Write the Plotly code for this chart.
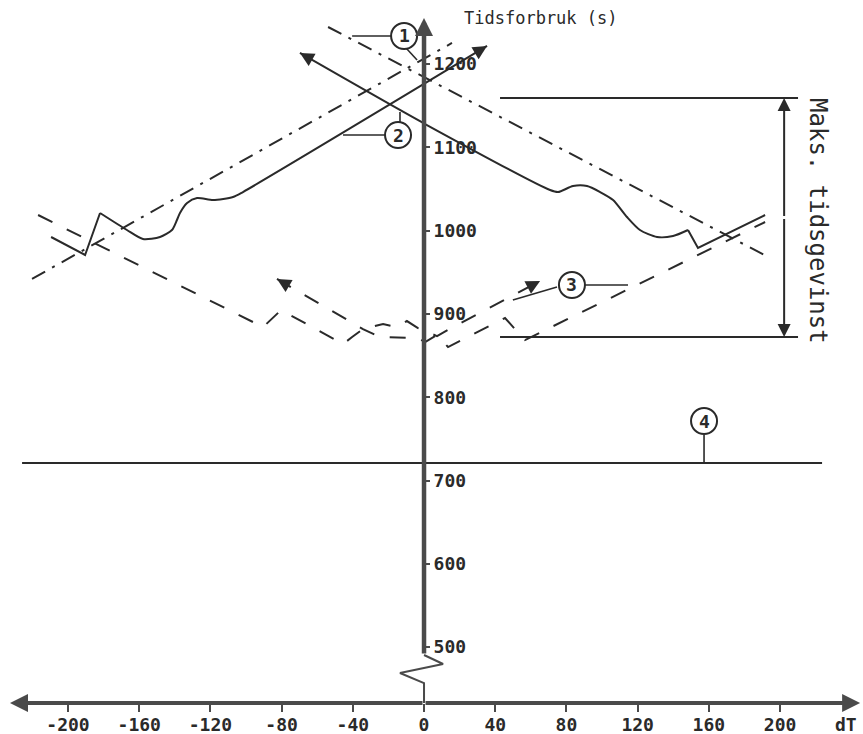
import math
import plotly.graph_objects as go

# ---------------- data ----------------
x_ticks = [-200, -160, -120, -80, -40, 0, 40, 80, 120, 160, 200]
x_tick_text = ["-200", "-160", "-120", "-80", "-40", "0", "40", "80", "120", "160", "200"]
y_ticks = [500, 600, 700, 800, 900, 1000, 1100, 1200]

# curve (2): solid, rising to the right (arrow at the end)
c2a_x = [-209.5, -190.4, -182.0, -166.9, -157.9, -148.3, -141.6, -138.8, -137.1, -133.1, -127.5, -118.5, -107.3, -101.7, 35.4]
c2a_y = [992.3, 970.7, 1021.1, 1000.7, 989.9, 992.3, 1000.7, 1012.7, 1021.1, 1033.1, 1039.1, 1036.7, 1040.3, 1046.3, 1221.6]
# curve (2): solid, rising to the left (arrow at the start)
c2b_x = [-69.7, 0.6, 70.8, 75.3, 83.7, 91.6, 98.9, 106.2, 114.0, 121.3, 130.9, 139.9, 148.3, 153.9, 191.6]
c2b_y = [1213.2, 1127.9, 1048.7, 1046.3, 1053.5, 1053.5, 1046.3, 1036.7, 1016.3, 1000.7, 992.3, 993.5, 1000.7, 979.1, 1018.7]

# curve (3): dashed, rising to the right (arrow at the end)
c3a_x = [-216.8, -90.4, -80.3, -45.5, -40.4, -34.3, -23.0, -15.2, -9.6, -3.4, 7.3, 16.3, 65.2]
c3a_y = [1018.7, 884.2, 904.6, 863.8, 872.2, 881.8, 887.8, 884.2, 891.4, 883.0, 873.4, 884.2, 939.5]
# curve (3): dashed, rising to the left (arrow at the start)
c3b_x = [-82.6, -34.3, -24.7, -3.4, 0.6, 7.3, 13.5, 45.5, 56.7, 191.6]
c3b_y = [941.9, 881.8, 872.2, 871.0, 866.2, 874.6, 860.2, 895.0, 868.6, 1010.3]

# curve (1): dash-dot straight lines
c1a_x = [-53.9, 194.4]
c1a_y = [1244.4, 967.1]
c1b_x = [-220.2, 15.7]
c1b_y = [941.9, 1225.2]

# line (4): constant level
c4_x = [-225.8, 223.6]
c4_y = [721.0, 721.0]

# "Maks. tidsgevinst" dimension
gain_x = [42.7, 210.1]
gain_top = 1159.2
gain_bottom = 872.2
gain_arrow_x = 202.3

# labelled circles
circle_x = [-11.2, -14.6, 83.1, 157.3]
circle_y = [1233.6, 1114.7, 934.7, 771.4]
circle_text = ["1", "2", "3", "4"]

# leader lines for circles (x pairs, y pairs)
leader_x = [[-18.0, -40.4], [-10.1, -3.9], [-21.3, -45.5], [-13.5, -13.5], [74.7, 49.9], [90.4, 114.6], [157.3, 157.3]]
leader_y = [[1233.6, 1233.6], [1219.2, 1204.8], [1114.7, 1114.7], [1129.1, 1142.3], [932.3, 916.7], [934.7, 934.7], [754.6, 721.0]]

# axes geometry
x_min, x_max = -238.2, 246.6
y_min, y_max = 432.9, 1276.8
x_arrow_left, x_arrow_right = -232.6, 245.0
y_axis_top = 1255.2
y_axis_start = 490.5
break_x = [0.0, 0.0, -13.5, 10.7, 0.0]
break_y = [432.9, 456.8, 468.9, 479.7, 490.5]

FIG_W, FIG_H = 863, 734
MARGIN_B = 31
PLOT_H = FIG_H - MARGIN_B
PX_X = FIG_W / (x_max - x_min)
PX_Y = PLOT_H / (y_max - y_min)

INK = "#2a2a2a"
AXIS = "#4a4a4a"
FONT = "DejaVu Sans Mono"
DASH = "16px,16px"
DASHDOT = "15px,8px,3px,8px"

fig = go.Figure()


def line(x, y, dash="solid", width=2, color=INK, shape="linear"):
    fig.add_trace(go.Scatter(x=x, y=y, mode="lines",
                             line=dict(color=color, width=width, dash=dash, shape=shape, smoothing=0.7),
                             hoverinfo="skip"))


def arrow(x_tail, y_tail, x_head, y_head, width=2, size=1.4, color=INK):
    fig.add_annotation(x=x_head, y=y_head, ax=x_tail, ay=y_tail,
                       xref="x", yref="y", axref="x", ayref="y",
                       text="", showarrow=True, arrowhead=2,
                       arrowsize=size, arrowwidth=width, arrowcolor=color, standoff=0)


def head_only(x_from, y_from, x_tip, y_tip, length_px=10, **kw):
    dx = (x_from - x_tip) * PX_X
    dy = (y_from - y_tip) * PX_Y
    d = math.hypot(dx, dy)
    f = length_px / d
    arrow(x_tip + (x_from - x_tip) * f, y_tip + (y_from - y_tip) * f, x_tip, y_tip, **kw)


# curve (2)
line(c2a_x[:3], c2a_y[:3])
line(c2a_x[2:], c2a_y[2:], shape="spline")
line(c2b_x[:13], c2b_y[:13], shape="spline")
line(c2b_x[12:], c2b_y[12:])
head_only(c2a_x[-2], c2a_y[-2], c2a_x[-1], c2a_y[-1])
head_only(c2b_x[1], c2b_y[1], c2b_x[0], c2b_y[0])

# curve (3)
line(c3a_x, c3a_y, dash=DASH)
line(c3b_x, c3b_y, dash=DASH)
head_only(c3a_x[-2], c3a_y[-2], c3a_x[-1], c3a_y[-1])
head_only(c3b_x[1], c3b_y[1], c3b_x[0], c3b_y[0])

# curve (1)
line(c1a_x, c1a_y, dash=DASHDOT)
line(c1b_x, c1b_y, dash=DASHDOT)

# line (4)
line(c4_x, c4_y)

# gain dimension
line(gain_x, [gain_top, gain_top])
line(gain_x, [gain_bottom, gain_bottom])
mid = (gain_top + gain_bottom) / 2
arrow(gain_arrow_x, mid, gain_arrow_x, gain_top, width=2, size=1.3)
arrow(gain_arrow_x, mid, gain_arrow_x, gain_bottom, width=2, size=1.3)

# leaders
for lx, ly in zip(leader_x, leader_y):
    line(lx, ly, width=1.6)

# y axis with break
line(break_x, break_y, width=2, color=AXIS)
arrow(0, y_axis_start, 0, y_axis_top, width=4.5, size=0.8, color=AXIS)
# x axis with arrows both ways
arrow(0, y_min, x_arrow_left, y_min, width=4, size=0.9, color=AXIS)
arrow(0, y_min, x_arrow_right, y_min, width=4, size=0.9, color=AXIS)

# circles
for cx, cy, t in zip(circle_x, circle_y, circle_text):
    fig.add_shape(type="circle", xref="x", yref="y", xsizemode="pixel", ysizemode="pixel",
                  xanchor=cx, yanchor=cy, x0=-13, x1=13, y0=-13, y1=13,
                  line=dict(color=INK, width=2), fillcolor="white")
    fig.add_annotation(x=cx, y=cy, text=t, showarrow=False,
                       font=dict(family=FONT, size=18, color=INK, weight="bold"))

# texts
fig.add_annotation(x=65.7, y=1255.2, text="Tidsforbruk (s)", showarrow=False,
                   font=dict(family=FONT, size=17, color=INK))
fig.add_annotation(x=221.3, y=1011.5, text="Maks. tidsgevinst", showarrow=False, textangle=90,
                   font=dict(family=FONT, size=24, color=INK))
# x-axis name, placed just below the axis on the right end
fig.add_annotation(x=846 / FIG_W, xref="paper", y=-(724 - PLOT_H) / PLOT_H, yref="paper",
                   xanchor="center", yanchor="middle",
                   text="dT", showarrow=False,
                   font=dict(family=FONT, size=18, color=INK, weight="bold"))

fig.update_layout(width=FIG_W, height=FIG_H, margin=dict(l=0, r=0, t=0, b=MARGIN_B, autoexpand=False),
                  plot_bgcolor="white", paper_bgcolor="white", showlegend=False)
fig.update_xaxes(range=[x_min, x_max], tickvals=x_ticks, ticktext=x_tick_text,
                 ticks="outside", ticklen=8, tickwidth=2, tickcolor=AXIS,
                 ticklabelstandoff=-3, automargin=False,
                 showgrid=False, zeroline=False, showline=False,
                 tickfont=dict(family=FONT, size=18, color=INK, weight="bold"))
fig.update_yaxes(range=[y_min, y_max], tickvals=y_ticks, anchor="free", position=424 / FIG_W,
                 side="right", ticks="outside", ticklen=5, tickwidth=2, tickcolor=AXIS,
                 automargin=False,
                 showgrid=False, zeroline=False, showline=False,
                 tickfont=dict(family=FONT, size=18, color=INK, weight="bold"))

# remove the default page margin so the figure fills the window exactly
fig.write_html("out.html", config={"displayModeBar": False},
               post_script="document.body.style.margin='0';document.body.style.overflow='hidden';")
